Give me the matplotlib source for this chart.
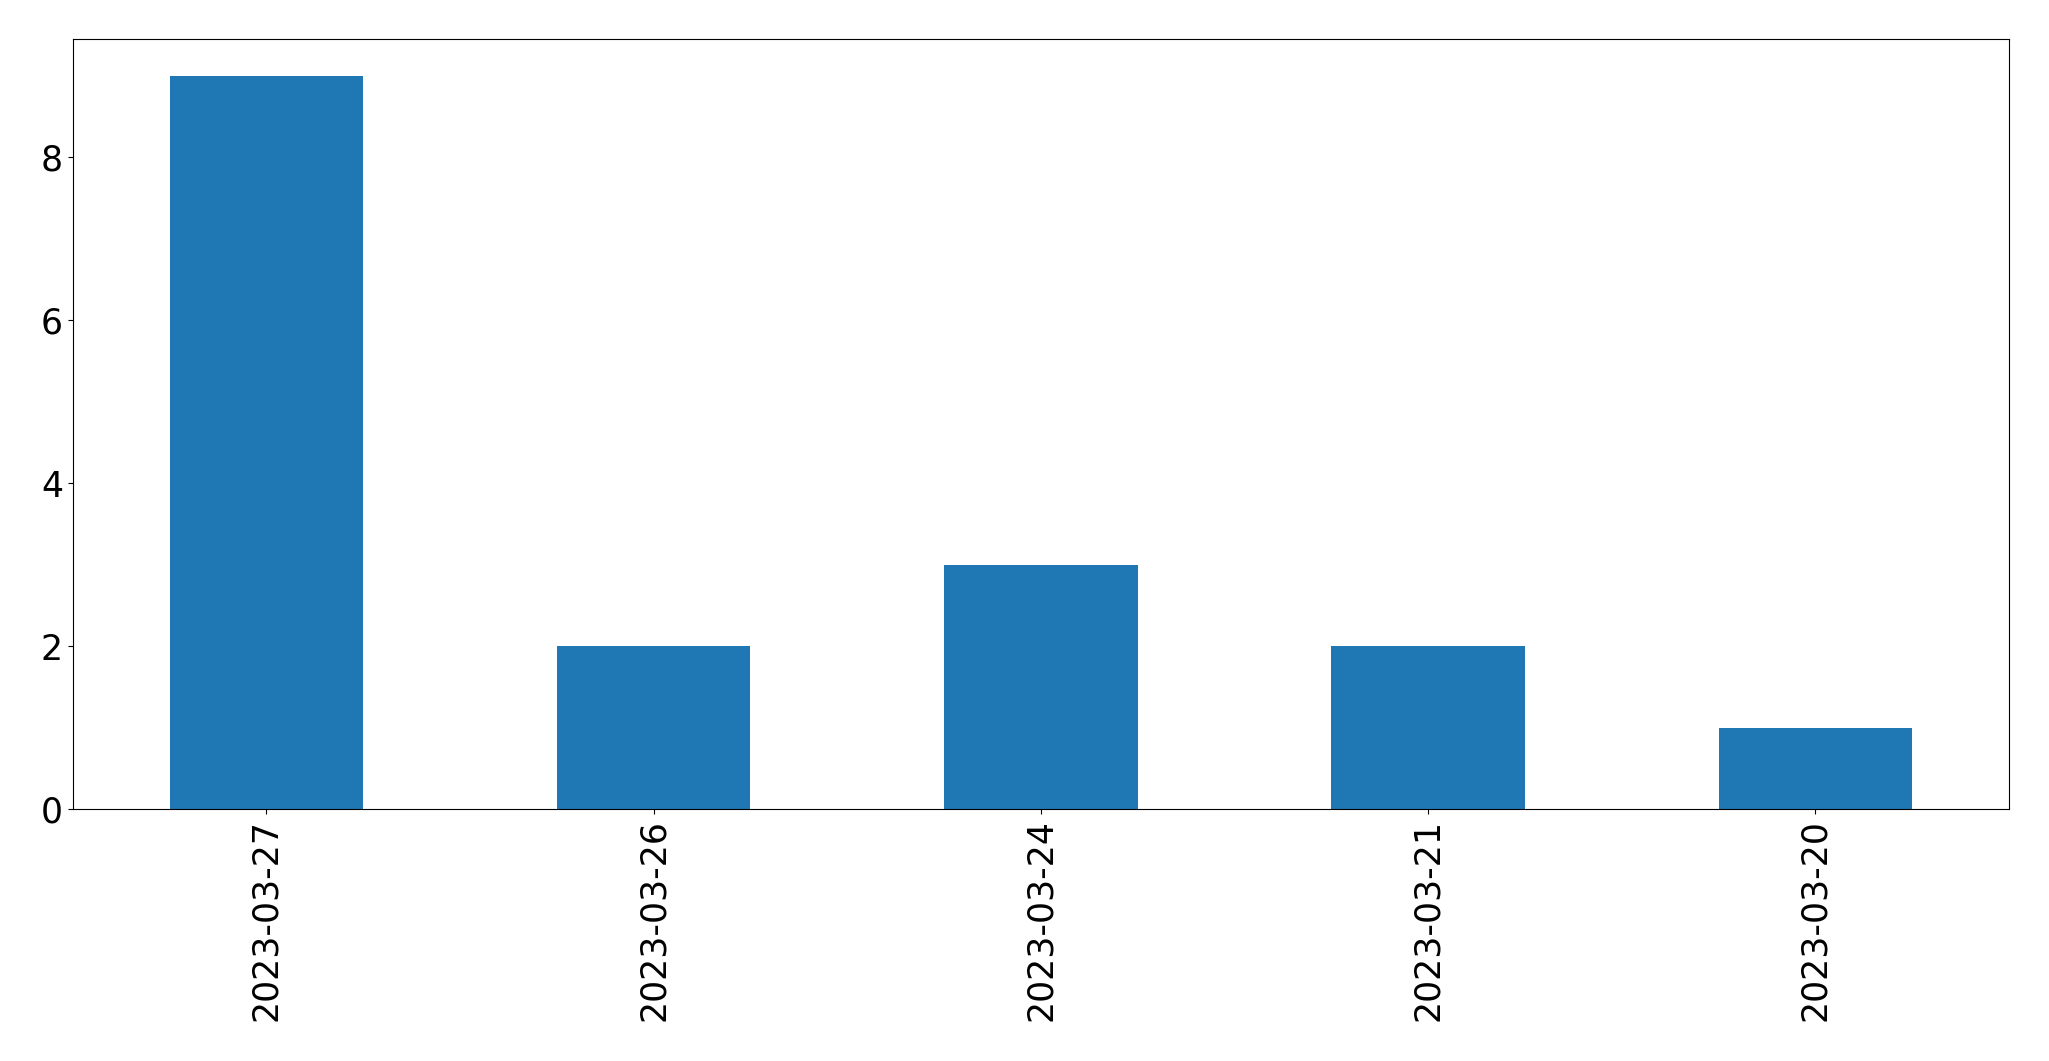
import matplotlib
matplotlib.use("Agg")
import matplotlib.pyplot as plt
import pandas as pd

dates = ["2023-03-27", "2023-03-26", "2023-03-24", "2023-03-21", "2023-03-20"]
counts = [9, 2, 3, 2, 1]

s = pd.Series(counts, index=dates)

fig = plt.figure(figsize=(20.49, 10.61), dpi=100)
ax = fig.add_axes([0.0355, 0.2375, 0.945, 0.7257])
s.plot(kind="bar", ax=ax, fontsize=25)
fig.savefig("out.png", dpi=100)
